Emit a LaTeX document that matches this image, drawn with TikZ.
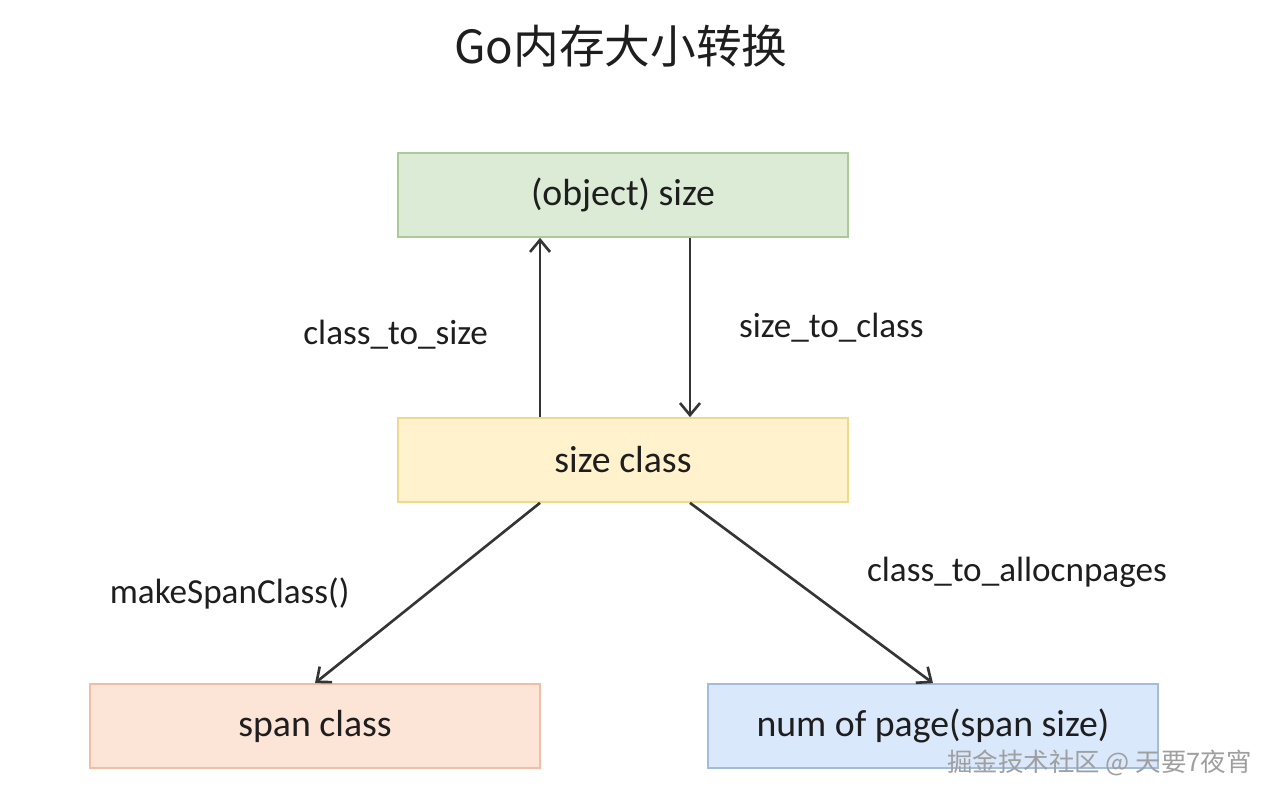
\documentclass[tikz,border=0pt]{standalone}
\usepackage{fontspec}
\setmainfont{Carlito}
\newfontfamily\cjk{Noto Sans CJK SC}
\usetikzlibrary{arrows.meta}
\definecolor{objfill}{HTML}{DCEBD5}
\definecolor{objdraw}{HTML}{A9CC96}
\definecolor{clsfill}{HTML}{FFF2CC}
\definecolor{clsdraw}{HTML}{F0D98A}
\definecolor{spanfill}{HTML}{FCE4D6}
\definecolor{spandraw}{HTML}{EEBFA6}
\definecolor{pagefill}{HTML}{DAE8FC}
\definecolor{pagedraw}{HTML}{A3BCDD}
\definecolor{ink}{HTML}{1E1E1E}
\begin{document}
\begin{tikzpicture}[
			x=0.02cm, y=-0.02cm,
			box/.style={draw, line width=1pt, minimum width=9cm, minimum height=1.68cm, inner sep=0pt, font=\fontsize{21.5}{24}\selectfont, text=ink},
			arr/.style={-{Straight Barb[length=2.4mm, width=4mm]}, line width=1.5pt, draw=ink!90},
			elabel/.style={draw=none, inner sep=1pt, font=\fontsize{20}{24}\selectfont, text=ink},
		]
		\useasboundingbox (0,0) rectangle (1280,797);
		\node[font=\cjk\fontsize{26}{30}\selectfont, text=ink] (title) at (621,46) {Go内存大小转换};

		\node[box, fill=objfill, draw=objdraw] (obj) at (623,195) {(object) size};
		\node[box, fill=clsfill, draw=clsdraw] (cls) at (623,460) {size class};
		\node[box, fill=spanfill, draw=spandraw] (span) at (315,726) {span class};
		\node[box, fill=pagefill, draw=pagedraw] (page) at (933,726) {num of page(span size)};

		\draw[arr] ([xshift=-1.66cm]cls.north) -- node[elabel, left=0.98cm, yshift=-0.15cm] {class\_to\_size} ([xshift=-1.66cm]obj.south);
		\draw[arr] ([xshift=1.34cm]obj.south) -- node[elabel, right=0.92cm] {size\_to\_class} ([xshift=1.34cm]cls.north);
		\draw[arr] ([xshift=-1.66cm]cls.south) -- node[elabel, left=1.5cm] {makeSpanClass()} (span.north);
		\draw[arr] ([xshift=1.34cm]cls.south) -- node[elabel, right=1.05cm, yshift=0.42cm] {class\_to\_allocnpages} (page.north);

		% watermark
		\node[font=\cjk\fontsize{14.5}{17}\selectfont, text=gray!75, anchor=east] (mark) at (1258,763) {掘金技术社区 @ 天要7夜宵};
	\end{tikzpicture}
\end{document}
